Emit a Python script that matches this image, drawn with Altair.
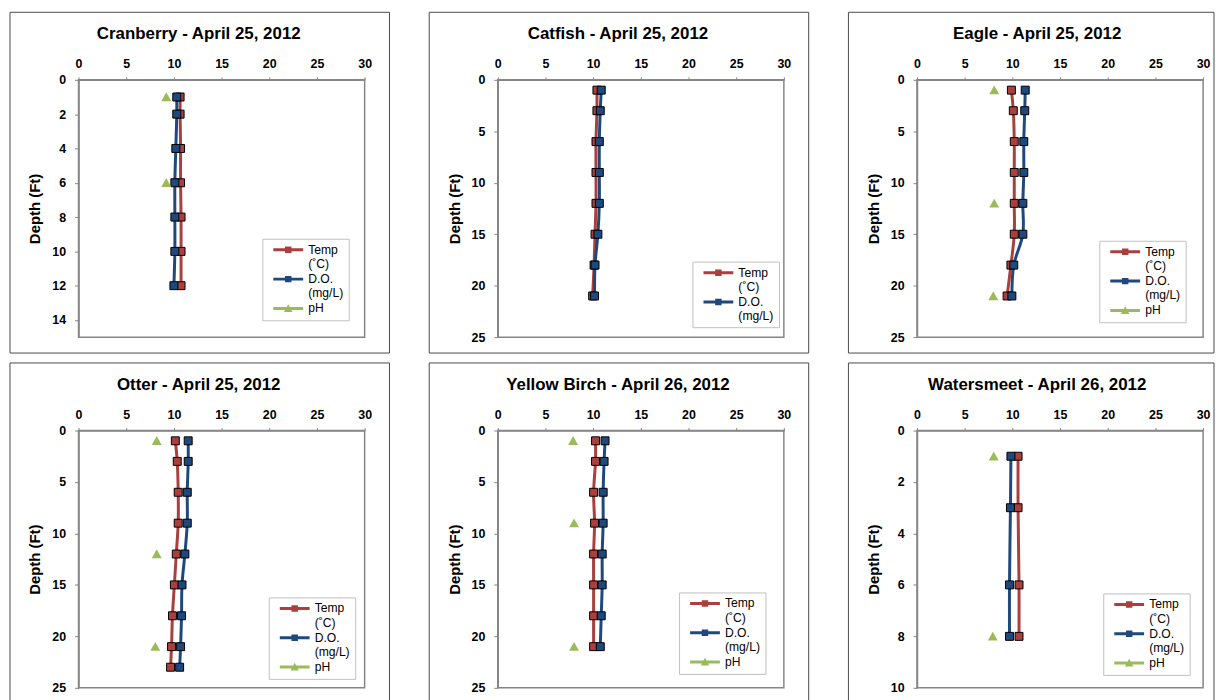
import altair as alt
import pandas as pd

FONT = "Liberation Sans"
RED = "#A9403D"
BLUE = "#1F497D"
GREEN = "#9BBB59"

SERIES = ["Temp (˚C)", "D.O. (mg/L)", "pH"]
COLORS = [RED, BLUE, GREEN]
# data-point markers
SQUARE = "M-0.8,-0.8H0.8V0.8H-0.8Z"
TRI = "M0,-0.95L1,0.85L-1,0.85Z"
SHAPES = [SQUARE, SQUARE, TRI]
# legend symbols: line segment with marker
LEG_SQ = "M-3,-0.3H3V0.3H-3Z M-0.65,-0.65H0.65V0.65H-0.65Z"
LEG_TRI = "M-3,-0.3H3V0.3H-3Z M0,-0.85L0.85,0.7L-0.85,0.7Z"
LEG_SHAPES = [LEG_SQ, LEG_SQ, LEG_TRI]

# ---------------- data ----------------
titles = [
    "Cranberry - April 25, 2012",
    "Catfish - April 25, 2012",
    "Eagle - April 25, 2012",
    "Otter - April 25, 2012",
    "Yellow Birch - April 26, 2012",
    "Watersmeet - April 26, 2012",
]

cran_depth = [1, 2, 4, 6, 8, 10, 12]
cran_temp = [10.65, 10.65, 10.7, 10.7, 10.75, 10.75, 10.75]
cran_do = [10.3, 10.3, 10.2, 10.1, 10.1, 10.1, 10.0]
cran_ph_depth = [1, 6]
cran_ph = [9.2, 9.2]

cat_depth = [1, 3, 6, 9, 12, 15, 18, 21]
cat_temp = [10.4, 10.4, 10.3, 10.3, 10.3, 10.2, 10.1, 9.95]
cat_do = [10.85, 10.75, 10.65, 10.65, 10.65, 10.5, 10.2, 10.15]
cat_ph_depth = []
cat_ph = []

eag_depth = [1, 3, 6, 9, 12, 15, 18, 21]
eag_temp = [9.9, 10.1, 10.2, 10.2, 10.2, 10.2, 9.85, 9.45]
eag_do = [11.35, 11.3, 11.2, 11.2, 11.1, 11.1, 10.15, 9.95]
eag_ph_depth = [1, 12, 21]
eag_ph = [8.1, 8.1, 8.0]

ott_depth = [1, 3, 6, 9, 12, 15, 18, 21, 23]
ott_temp = [10.15, 10.35, 10.45, 10.45, 10.25, 10.05, 9.85, 9.75, 9.65]
ott_do = [11.5, 11.5, 11.4, 11.4, 11.15, 10.85, 10.8, 10.7, 10.6]
ott_ph_depth = [1, 12, 21]
ott_ph = [8.2, 8.2, 8.05]

yb_depth = [1, 3, 6, 9, 12, 15, 18, 21]
yb_temp = [10.25, 10.25, 10.05, 10.15, 10.05, 10.05, 10.05, 10.05]
yb_do = [11.25, 11.15, 11.05, 11.05, 10.95, 10.95, 10.85, 10.75]
yb_ph_depth = [1, 9, 21]
yb_ph = [7.9, 8.0, 8.0]

ws_depth = [1, 3, 6, 8]
ws_temp = [10.6, 10.6, 10.7, 10.7]
ws_do = [9.85, 9.8, 9.7, 9.7]
ws_ph_depth = [1, 8]
ws_ph = [8.05, 7.95]

x_ticks = [0, 5, 10, 15, 20, 25, 30]
y_domains = [[0, 15], [0, 25], [0, 25], [0, 25], [0, 25], [0, 10]]
y_ticks = [
    [0, 2, 4, 6, 8, 10, 12, 14],
    [0, 5, 10, 15, 20, 25],
    [0, 5, 10, 15, 20, 25],
    [0, 5, 10, 15, 20, 25],
    [0, 5, 10, 15, 20, 25],
    [0, 2, 4, 6, 8, 10],
]
legend_pos = [(185, 160), (196, 183), (183.5, 162), (191.5, 168), (182.5, 163), (187.5, 164)]

panels_data = [
    (cran_depth, cran_temp, cran_do, cran_ph_depth, cran_ph),
    (cat_depth, cat_temp, cat_do, cat_ph_depth, cat_ph),
    (eag_depth, eag_temp, eag_do, eag_ph_depth, eag_ph),
    (ott_depth, ott_temp, ott_do, ott_ph_depth, ott_ph),
    (yb_depth, yb_temp, yb_do, yb_ph_depth, yb_ph),
    (ws_depth, ws_temp, ws_do, ws_ph_depth, ws_ph),
]


def _wrap_mode():
    try:
        sch = alt.Legend.resolve_references()
        enc = alt.Legend.resolve_references(sch["properties"]["encode"])
        part = alt.Legend.resolve_references(enc["properties"]["labels"])
        if "update" in part.get("properties", {}):
            return True
    except Exception:
        pass
    return False


WRAP = _wrap_mode()


def guide_entry(d):
    return {"update": d} if WRAP else d


W, H = 288, 259


def make_panel(i, use_encode=True):
    depth, temp, do, ph_depth, ph = panels_data[i]
    rows = []
    for d, v in zip(depth, temp):
        rows.append({"depth": d, "value": v, "series": SERIES[0]})
    for d, v in zip(depth, do):
        rows.append({"depth": d, "value": v, "series": SERIES[1]})
    for d, v in zip(ph_depth, ph):
        rows.append({"depth": d, "value": v, "series": SERIES[2]})
    df = pd.DataFrame(rows)
    n = 3 if len(ph) else 2
    lx, ly = legend_pos[i]

    x = alt.X(
        "value:Q",
        scale=alt.Scale(domain=[0, 30], nice=False),
        axis=alt.Axis(orient="top", values=x_ticks, title=None, tickSize=3,
                      labelPadding=6),
    )
    y = alt.Y(
        "depth:Q",
        scale=alt.Scale(domain=y_domains[i], reverse=True, nice=False),
        axis=alt.Axis(values=y_ticks[i], title="Depth (Ft)", tickSize=4,
                      labelPadding=9, titlePadding=9),
    )

    extra = {}
    if use_encode:
        extra["encode"] = {"labels": guide_entry({"dy": {"value": -6.5}})}
        extra["labelBaseline"] = "top"
    else:
        extra["labelBaseline"] = "middle"

    leg = alt.Legend(
        title=None, orient="none", legendX=lx, legendY=ly,
        symbolSize=100, symbolOffset=15, symbolStrokeWidth=0,
        symbolStrokeColor="transparent", symbolOpacity=1,
        strokeColor="#BFBFBF", padding=5,
        labelFont=FONT, labelFontSize=12.2, labelColor="black",
        labelOffset=14, rowPadding=2.5,
        labelExpr="split(datum.label, ' ')",
        **extra,
    )
    color_scale = alt.Scale(domain=SERIES[:n], range=COLORS[:n])

    base = alt.Chart(df)
    lines = base.transform_filter("datum.series !== 'pH'").mark_line(
        interpolate="catmull-rom", strokeWidth=3
    ).encode(
        x=x, y=y,
        stroke=alt.Stroke("series:N", scale=color_scale, legend=None),
        order=alt.Order("depth:Q"),
    )
    carrier = base.mark_point(filled=True, size=100, opacity=0).encode(
        x=x, y=y,
        fill=alt.Fill("series:N", scale=color_scale, legend=leg),
        shape=alt.Shape("series:N", scale=alt.Scale(domain=SERIES[:n], range=LEG_SHAPES[:n]),
                        legend=leg),
    )
    points = base.mark_point(filled=True, size=100, opacity=1, strokeWidth=1).encode(
        x=x, y=y,
        fill=alt.Fill("series:N", scale=color_scale, legend=None),
        shape=alt.Shape("series:N", scale=alt.Scale(domain=SERIES[:n], range=SHAPES[:n]),
                        legend=None),
        stroke=alt.condition(alt.datum.series == "pH", alt.value("transparent"), alt.value("black")),
    )
    one = alt.Chart(pd.DataFrame({"f": [0]}))
    frame_right = 299 if i % 3 == 2 else 313
    frame = one.mark_rect(
        fill="transparent", stroke="#4a4a4a", strokeWidth=1
    ).encode(x=alt.value(-69), x2=alt.value(frame_right), y=alt.value(-68), y2=alt.value(275))
    title = one.mark_text(
        font=FONT, fontSize=17, fontWeight="bold", color="black",
        align="center", baseline="middle",
    ).encode(x=alt.value(121), y=alt.value(-46), text=alt.value(titles[i]))

    return alt.layer(frame, title, lines, carrier, points).resolve_scale(
        shape="independent", fill="independent"
    ).properties(width=W, height=H)


def build(use_encode):
    return alt.concat(*[make_panel(i, use_encode) for i in range(6)], columns=3,
                      spacing={"row": 6, "column": 36}).resolve_scale(
        stroke="independent", fill="independent", shape="independent"
    ).resolve_legend(
        stroke="independent", fill="independent", shape="independent"
    ).properties(
        padding={"left": 0, "top": 0, "right": 0, "bottom": 0}
    ).configure(font=FONT).configure_view(
        stroke="#868686", strokeWidth=1.5
    ).configure_axis(
        labelFont=FONT, labelFontSize=12.5, labelFontWeight="bold", labelColor="black",
        titleFont=FONT, titleFontSize=15, titleFontWeight="bold", titleColor="black",
        domainColor="#868686", domainWidth=1.5, tickColor="#868686", tickWidth=1,
        grid=False, labelFlush=False, labelOverlap=False,
    )


try:
    chart = build(True)
    chart.to_dict()
except Exception:
    chart = build(False)

chart.save("out.html", embed_options={"renderer": "svg", "actions": False})
